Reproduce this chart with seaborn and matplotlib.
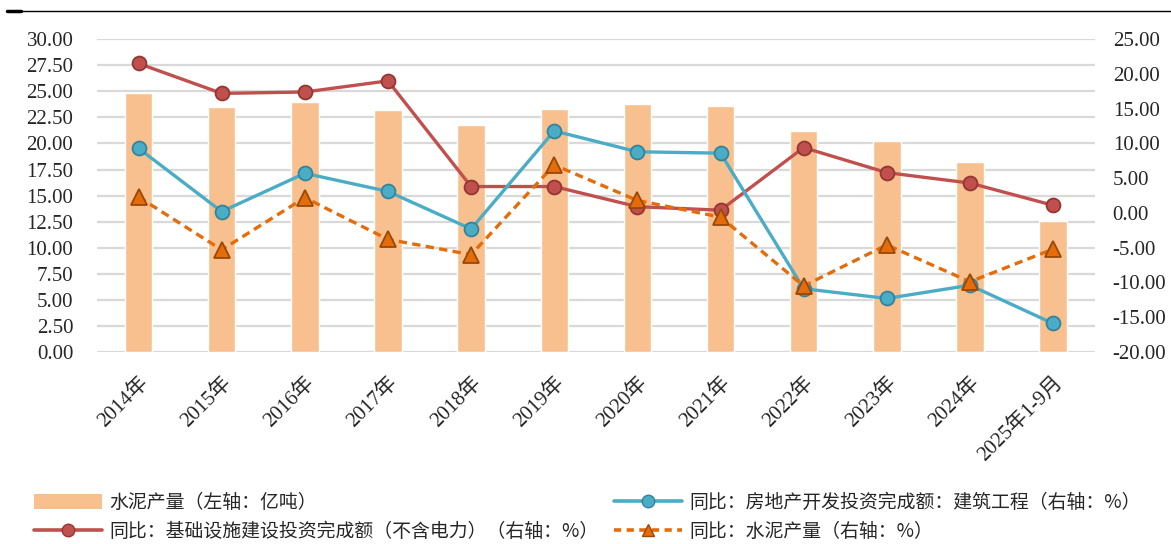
import matplotlib
matplotlib.use("Agg")
import matplotlib.pyplot as plt
import seaborn as sns
import pandas as pd
import numpy as np
from matplotlib.lines import Line2D
from matplotlib.patches import Patch

# ---- data ----
categories = ["2014年", "2015年", "2016年", "2017年", "2018年", "2019年",
              "2020年", "2021年", "2022年", "2023年", "2024年", "2025年1-9月"]
cement_output = [24.8, 23.5, 24.0, 23.2, 21.8, 23.3, 23.8, 23.6, 21.2, 20.2, 18.2, 12.6]
infra_yoy = [21.5, 17.2, 17.4, 19.0, 3.8, 3.8, 0.9, 0.4, 9.4, 5.8, 4.3, 1.1]
realestate_yoy = [9.3, 0.2, 5.7, 3.1, -2.3, 11.8, 8.8, 8.6, -10.9, -12.3, -10.4, -15.9]
cement_yoy = [2.3, -5.3, 2.2, -3.8, -6.0, 6.9, 1.8, -0.6, -10.5, -4.6, -9.9, -5.2]

left_ticks = np.arange(0, 30.01, 2.5)
right_ticks = np.arange(-20, 25.01, 5)

legend_labels = ["水泥产量（左轴：亿吨）",
                 "同比：基础设施建设投资完成额（不含电力）（右轴：%）",
                 "同比：房地产开发投资完成额：建筑工程（右轴：%）",
                 "同比：水泥产量（右轴：%）"]

df = pd.DataFrame({"cat": categories, "cement": cement_output,
                   "infra": infra_yoy, "re": realestate_yoy, "cyoy": cement_yoy})

# ---- style ----
sns.set_style("white")
num_font = ["Liberation Serif", "Noto Sans CJK SC"]
cjk_font = ["Noto Sans CJK SC", "DejaVu Sans"]
plt.rcParams["font.family"] = num_font
plt.rcParams["axes.unicode_minus"] = False

bar_color = "#F9C08F"
red = "#C0504D"; red_e = "#943634"
blue = "#4BACC6"; blue_e = "#31849B"
orange = "#E46C0A"; orange_e = "#984807"
tick_size = 15

fig = plt.figure(figsize=(11.71, 5.44), dpi=100)
ax = fig.add_axes([0.0828, 0.353, 0.852, 0.575])

sns.barplot(data=df, x="cat", y="cement", color=bar_color, width=0.33,
            saturation=1, ax=ax, zorder=2)
ax.set_ylim(0, 30)
ax.set_yticks(left_ticks)
ax.set_yticklabels([f"{v:.2f}" for v in left_ticks])
ax.yaxis.grid(True, color="#D9D9D9", linewidth=1.6, zorder=0)
ax.set_axisbelow(True)
ax.set_xlabel(""); ax.set_ylabel("")
for s in ax.spines.values():
    s.set_visible(False)
ax.tick_params(axis="y", length=0, pad=17, labelsize=tick_size)
ax.tick_params(axis="x", length=0, pad=15)

ax2 = ax.twinx()
common = dict(linewidth=2.4, markersize=10, markeredgewidth=1.3)
sns.pointplot(data=df, x="cat", y="infra", color=red, markers="o",
              linestyles="-", errorbar=None, ax=ax2,
              markerfacecolor=red, markeredgecolor=red_e, **common)
sns.pointplot(data=df, x="cat", y="re", color=blue, markers="o",
              linestyles="-", errorbar=None, ax=ax2,
              markerfacecolor=blue, markeredgecolor=blue_e, **common)
sns.pointplot(data=df, x="cat", y="cyoy", color=orange, markers="^",
              linestyles="--", errorbar=None, ax=ax2,
              markerfacecolor=orange, markeredgecolor=orange_e,
              linewidth=2.4, markersize=11, markeredgewidth=1.3)
for ln in ax2.lines:
    if ln.get_linestyle() == "--":
        ln.set_dashes([2.5, 1.6])
ax2.set_ylim(-20, 25)
ax2.set_yticks(right_ticks)
ax2.set_yticklabels([f"{v:.2f}" for v in right_ticks])
ax2.set_xlim(-0.5, len(categories) - 0.5)
ax2.set_xlabel(""); ax2.set_ylabel("")
for s in ax2.spines.values():
    s.set_visible(False)
ax2.tick_params(axis="y", length=0, pad=13, labelsize=tick_size)
ax2.grid(False)

ax.set_xticks(range(len(categories)))
ax.set_xticklabels(categories, rotation=45, ha="right",
                   rotation_mode="anchor", fontsize=tick_size, family=num_font)

# top decorative rule
fig.add_artist(Line2D([0.006, 1.0], [0.98, 0.98], transform=fig.transFigure,
                      color="black", linewidth=1.0))
fig.add_artist(Line2D([0.006, 0.018], [0.98, 0.98], transform=fig.transFigure,
                      color="black", linewidth=2.5))

handles = [
    Patch(facecolor=bar_color, edgecolor="none"),
    Line2D([], [], color=red, linewidth=2.6, marker="o", markersize=9,
           markerfacecolor=red, markeredgecolor=red_e),
    Line2D([], [], color=blue, linewidth=2.6, marker="o", markersize=9,
           markerfacecolor=blue, markeredgecolor=blue_e),
    Line2D([], [], color=orange, linewidth=2.6, linestyle=(0, (2, 1.5)),
           marker="^", markersize=9, markerfacecolor=orange,
           markeredgecolor=orange_e),
]
leg = fig.legend(handles, legend_labels, ncol=2, loc="upper left",
                 bbox_to_anchor=(0.019, 0.116), frameon=False,
                 prop={"family": cjk_font, "size": 13.6},
                 handlelength=3.6, handleheight=0.8, handletextpad=0.42,
                 columnspacing=0.8, labelspacing=0.42, numpoints=1,
                 borderaxespad=0.2)

fig.savefig("out.png", dpi=100)
